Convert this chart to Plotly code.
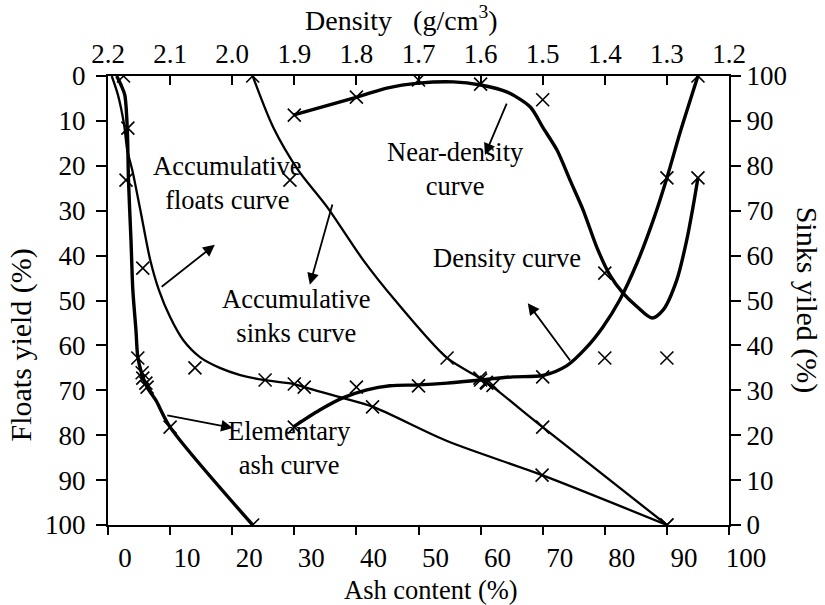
import plotly.graph_objects as go

# ---------------- data ----------------
# Elementary ash curve: ash content (%) vs floats yield (%)
E_ash = [1.4, 2.1, 2.7, 3.1, 3.3, 3.7, 4.0, 4.5, 4.8, 5.5, 6.3, 7.7, 10.0, 23.3]
E_floats = [0, 2.0, 4.2, 11.6, 23.2, 36.5, 47.7, 56.6, 62.6, 66.6, 69.3, 72.2, 78.2, 100]
E_mk_ash = [2.5, 3.2, 2.9, 4.8, 5.5, 5.6, 6.1, 6.3, 10.0, 23.3]
E_mk_floats = [0, 11.6, 23.2, 62.8, 66.1, 67.3, 68.4, 69.3, 78.2, 100]

# Accumulative floats curve: ash content (%) vs floats yield (%)
F_ash = [0.6, 1.6, 2.6, 3.1, 3.9, 5.2, 6.8, 8.2, 10.0, 12.1, 14.8, 18.0, 21.3,
         25.0, 30.0, 31.6, 37.8, 42.7, 54.6, 69.9, 90.0]
F_floats = [0, 4.2, 10.9, 16.5, 20.9, 29.8, 41.0, 47.7, 53.7, 58.8, 62.6, 65.0, 66.6,
            67.7, 68.6, 69.3, 71.7, 73.7, 81.3, 88.9, 100]
F_mk_ash = [5.6, 14.0, 25.3, 30.0, 31.6, 42.6, 69.9, 90.0]
F_mk_floats = [42.8, 65.0, 67.7, 68.6, 69.3, 73.7, 88.9, 100]

# Accumulative sinks curve: ash content (%) vs sinks yield (%)
S_ash = [23.3, 26.6, 30.6, 35.3, 41.1, 46.2, 54.6, 59.9, 62.0, 70.0, 90.0]
S_sinks = [100, 88.6, 79.1, 70.8, 59.0, 50.1, 37.2, 32.7, 30.7, 21.8, 0]
S_mk_ash = [23.3, 29.3, 54.6, 59.9, 60.9, 70.0, 90.0]
S_mk_sinks = [100, 76.8, 37.2, 32.7, 31.8, 21.8, 0]

# Density curve: density (g/cm3) vs floats yield (%)
D_density = [1.902, 1.859, 1.822, 1.783, 1.746, 1.700, 1.654, 1.600, 1.548, 1.500,
             1.461, 1.429, 1.403, 1.376, 1.348, 1.322, 1.300, 1.279, 1.250]
D_floats = [78.2, 74.4, 71.7, 69.9, 69.0, 68.8, 68.4, 67.7, 67.0, 66.7,
            64.5, 60.4, 55.9, 49.9, 41.6, 32.1, 22.7, 12.7, 0]
D_mk_density = [1.900, 1.800, 1.700, 1.600, 1.590, 1.580, 1.500, 1.300, 1.250]
D_mk_floats = [78.2, 69.3, 69.0, 67.7, 68.4, 68.9, 67.0, 22.7, 0]

# Near-density curve: density (g/cm3) vs right-axis value (%)
N_density = [1.902, 1.799, 1.751, 1.700, 1.644, 1.600, 1.557, 1.520, 1.500, 1.477,
             1.456, 1.435, 1.413, 1.392, 1.371, 1.348, 1.324, 1.306, 1.284, 1.268,
             1.258, 1.250]
N_value = [91.3, 95.3, 97.3, 98.4, 98.7, 98.0, 96.4, 93.1, 88.6, 83.5,
           76.8, 70.2, 61.9, 55.7, 51.7, 48.6, 46.1, 47.9, 54.6, 63.5,
           70.8, 77.3]
N_mk_density = [1.900, 1.800, 1.700, 1.600, 1.500, 1.400, 1.400, 1.300, 1.250]
N_mk_value = [91.3, 95.3, 99.1, 98.2, 94.7, 56.1, 37.2, 37.2, 77.3]

FONT = "Liberation Serif"
THICK = 3.4
THIN = 2.3

fig = go.Figure()

def curve(x, y, width, xa="x", ya="y"):
    fig.add_trace(go.Scatter(x=x, y=y, mode="lines", xaxis=xa, yaxis=ya,
                             line=dict(color="black", width=width, shape="spline", smoothing=0.8),
                             showlegend=False, hoverinfo="skip"))

def marks(x, y, xa="x", ya="y"):
    fig.add_trace(go.Scatter(x=x, y=y, mode="markers", xaxis=xa, yaxis=ya,
                             marker=dict(symbol="x-thin", size=13, color="black",
                                         line=dict(width=1.6, color="black")),
                             showlegend=False, hoverinfo="skip"))

curve(E_ash, E_floats, THICK)
marks(E_mk_ash, E_mk_floats)
curve(F_ash, F_floats, THIN)
marks(F_mk_ash, F_mk_floats)
curve(S_ash, S_sinks, THIN, "x", "y2")
marks(S_mk_ash, S_mk_sinks, "x", "y2")
curve(D_density, D_floats, THICK, "x2", "y")
marks(D_mk_density, D_mk_floats, "x2", "y")
curve(N_density, N_value, THICK, "x2", "y2")
marks(N_mk_density, N_mk_value, "x2", "y2")

tickfont = dict(family=FONT, size=27, color="black")
common = dict(showgrid=False, zeroline=False, showline=True, linewidth=2, linecolor="black",
              tickwidth=2, tickcolor="black", tickfont=tickfont)

fig.update_layout(
    width=825, height=605,
    margin=dict(l=108, r=96, t=76, b=80),
    paper_bgcolor="white", plot_bgcolor="white",
    font=dict(family=FONT, color="black"),
    xaxis=dict(range=[0, 100], tick0=0, dtick=10, ticks="outside", ticklen=8,
               ticklabelshift=17, anchor="y", **common),
    xaxis2=dict(range=[2.2, 1.2], tick0=1.2, dtick=0.1, ticks="inside", ticklen=9,
                tickformat=".1f", overlaying="x", side="top", anchor="y", **common),
    yaxis=dict(range=[100, 0], tick0=0, dtick=10, ticks="outside", ticklen=10,
               ticklabelstandoff=5, anchor="x", **common),
    yaxis2=dict(range=[0, 100], tick0=0, dtick=10, ticks="outside", ticklen=10,
                overlaying="y", side="right", anchor="x", **common),
)
fig.update_xaxes(tickfont_size=26, selector=dict(side="bottom"))

lab = dict(family=FONT, size=26.5, color="black")
ann = []
# axis titles
ann.append(dict(text="Ash content (%)", xref="paper", yref="paper", x=0.52, y=-0.145,
                showarrow=False, font=dict(family=FONT, size=26.5, color="black"),
                xanchor="center", yanchor="middle"))
ann.append(dict(text="Floats yield (%)", xref="paper", yref="paper", x=-0.14, y=0.40,
                textangle=-90, showarrow=False, font=dict(family=FONT, size=30, color="black"),
                xanchor="center", yanchor="middle"))
ann.append(dict(text="Sinks yiled (%)", xref="paper", yref="paper", x=1.127, y=0.50,
                textangle=90, showarrow=False, font=dict(family=FONT, size=30, color="black"),
                xanchor="center", yanchor="middle"))
ann.append(dict(text="Density&nbsp;&nbsp; (g/cm<sup>3</sup>)", xref="paper", yref="paper", x=0.473, y=1.129,
                showarrow=False, font=dict(family=FONT, size=28, color="black"),
                xanchor="center", yanchor="middle"))
# curve labels
labels = [("Accumulative<br>floats curve", 19.2, 23.8),
          ("Accumulative<br>sinks curve", 30.4, 53.5),
          ("Elementary<br>ash curve", 29.3, 82.9),
          ("Near-density<br>curve", 56.0, 20.7),
          ("Density curve", 64.3, 40.5)]
for t, x, y in labels:
    ann.append(dict(text=t, x=x, y=y, xref="x", yref="y", showarrow=False, font=lab,
                    xanchor="center", yanchor="middle"))
# arrows (head, tail) in ash/floats coordinates
arrows = [((17.2, 37.6), (8.4, 47.2)),
          ((32.5, 46.5), (36.2, 28.3)),
          ((20.1, 78.4), (9.3, 75.5)),
          ((60.7, 17.6), (64.3, 5.8)),
          ((67.6, 50.6), (74.6, 63.7))]
for (hx, hy), (tx, ty) in arrows:
    ann.append(dict(text="", x=hx, y=hy, ax=tx, ay=ty, xref="x", yref="y", axref="x", ayref="y",
                    showarrow=True, arrowhead=2, arrowsize=1.3, arrowwidth=1.8, arrowcolor="black",
                    standoff=0, startstandoff=0))
fig.update_layout(annotations=ann)

fig.write_html("out.html")
